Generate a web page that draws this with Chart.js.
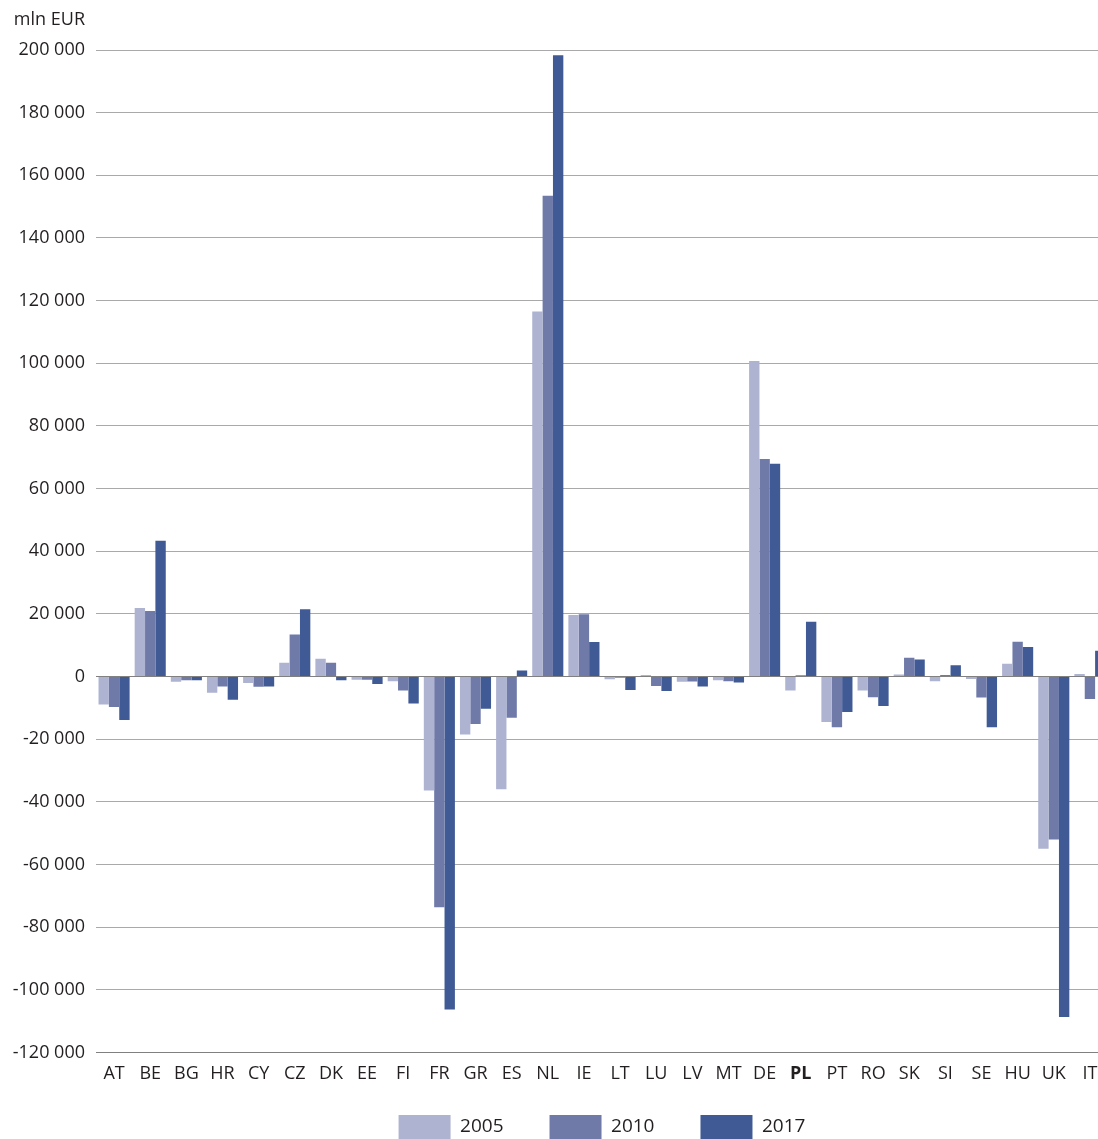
<!DOCTYPE html>
<html>
<head>
<meta charset="utf-8">
<script src="https://cdn.jsdelivr.net/npm/chart.js@4.4.1/dist/chart.umd.min.js"></script>
<style>
  html, body { margin: 0; padding: 0; background: #fff; }
  #wrap { width: 1098px; height: 1139px; overflow: hidden; position: relative; }
  #box { width: 1108px; height: 1149px; position: absolute; left: 0; top: 0; }
</style>
</head>
<body>
<div id="wrap"><div id="box"><canvas id="chart"></canvas></div></div>
<script>
// Categories and series (mln EUR)
const countries = ['AT', 'BE', 'BG', 'HR', 'CY', 'CZ', 'DK', 'EE', 'FI', 'FR', 'GR', 'ES', 'NL', 'IE',
    'LT', 'LU', 'LV', 'MT', 'DE', 'PL', 'PT', 'RO', 'SK', 'SI', 'SE', 'HU', 'UK', 'IT'];
const years = ['2005', '2010', '2017'];
const values2005 = [-8900, 21900, -1700, -5200, -2100, 4400, 5700, -1000, -1500, -36400, -18500, -36000, 116500, 19600,
    -900, 500, -1700, -1200, 100700, -4500, -14500, -4500, 600, -1500, -800, 4100, -55000, 800];
const values2010 = [-9700, 20900, -1200, -3200, -3300, 13400, 4400, -1000, -4500, -73700, -15200, -13200, 153500, 19900,
    -400, -3000, -1600, -1500, 69400, 400, -16200, -6600, 6000, 500, -6700, 11100, -52000, -7200];
const values2017 = [-13900, 43300, -1200, -7400, -3200, 21500, -1200, -2400, -8600, -106300, -10300, 1900, 198300, 11000,
    -4300, -4600, -3200, -1900, 67900, 17500, -11300, -9400, 5400, 3600, -16200, 9400, -108700, 8200];
const yTicks = [200000, 180000, 160000, 140000, 120000, 100000, 80000, 60000, 40000, 20000, 0,
    -20000, -40000, -60000, -80000, -100000, -120000];
const unitLabel = 'mln EUR';

const colors = ['#aeb3d1', '#6f7aa9', '#3f5a95'];
const textColor = '#231f20';
const fontFamily = '"Open Sans", "Noto Sans", sans-serif';
const legendLift = 19;

Chart.defaults.font.family = fontFamily;
Chart.defaults.font.size = 18;
Chart.defaults.color = textColor;

function fmt(v) {
    const s = Math.abs(v).toString().replace(/\B(?=(\d{3})+(?!\d))/g, ' ');
    return (v < 0 ? '-' : '') + s;
}

// unit label above the y axis, legend centred under the plot area and pulled up
const extrasPlugin = {
    id: 'extras',
    beforeLayout(chart) {
        const lg = chart.legend;
        if (lg && !lg._trimmed) {
            const fit = lg.fit.bind(lg);
            lg.fit = function() { fit(); this.height -= legendLift; };
            lg._trimmed = true;
        }
    },
    beforeDraw(chart) {
        const lg = chart.legend;
        lg.left = chart.chartArea.left;
        lg.top = lg.bottom - lg.height - legendLift;
    },
    afterDraw(chart) {
        const c = chart.ctx;
        const y = chart.scales.y;
        c.save();
        c.font = '18px ' + fontFamily;
        c.fillStyle = textColor;
        c.textAlign = 'right';
        c.textBaseline = 'middle';
        c.fillText(unitLabel, y.right - 11, 20);
        c.restore();
    }
};

const seriesData = [values2005, values2010, values2017];

new Chart(document.getElementById('chart'), {
    type: 'bar',
    data: {
        labels: countries,
        datasets: years.map((yr, i) => ({
            label: yr,
            data: seriesData[i],
            backgroundColor: colors[i],
            borderWidth: 0,
            barPercentage: 1.0,
            categoryPercentage: 0.86
        }))
    },
    options: {
        responsive: true,
        maintainAspectRatio: false,
        animation: false,
        layout: { padding: { top: 50, right: 0, left: 0, bottom: 0 } },
        plugins: {
            legend: {
                position: 'bottom',
                labels: {
                    boxWidth: 52,
                    boxHeight: 24,
                    padding: 46,
                    color: textColor,
                    font: { size: 19 }
                }
            },
            tooltip: { enabled: false },
            title: { display: false }
        },
        scales: {
            x: {
                grid: { display: false },
                border: { display: false },
                ticks: {
                    padding: 3,
                    autoSkip: false,
                    maxRotation: 0,
                    font: (ctx) => ({
                        size: 18,
                        weight: countries[ctx.index] === 'PL' ? 'bold' : 'normal'
                    })
                }
            },
            y: {
                min: -120000,
                max: 200000,
                afterFit(scale) { scale.width = 96; },
                afterBuildTicks(scale) { scale.ticks = yTicks.map(v => ({ value: v })); },
                border: { display: false },
                grid: {
                    drawTicks: false,
                    lineWidth: 1,
                    color: (ctx) => (ctx.tick && (ctx.tick.value === 0 || ctx.tick.value === -120000)) ? '#808080' : '#a9a9a9'
                },
                ticks: {
                    padding: 11,
                    callback: (v) => fmt(v)
                }
            }
        }
    },
    plugins: [extrasPlugin]
});
</script>
</body>
</html>
